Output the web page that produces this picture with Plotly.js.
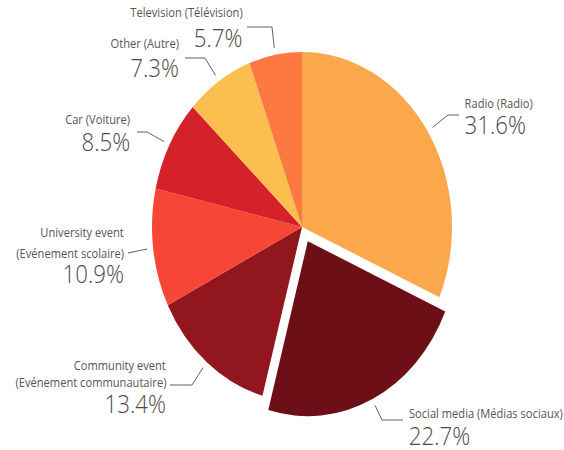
<!DOCTYPE html>
<html><head><meta charset="utf-8">
<script src="https://cdn.plot.ly/plotly-3.0.1.min.js"></script>
<style>
html,body{margin:0;padding:0;overflow:hidden;background:#fff;}
#wrap{width:564px;height:450px;overflow:hidden;}
#chart{width:658px;height:450px;transform:scaleX(0.857143);transform-origin:0 0;}
</style></head><body><div id="wrap"><div id="chart"></div></div>
<script>
// ---- data ----
const categories = ["Radio (Radio)", "Social media (Médias sociaux)", "Community event|(Evénement communautaire)", "University event|(Evénement scolaire)", "Car (Voiture)", "Other (Autre)", "Television (Télévision)"];
const values = [31.6, 22.7, 13.4, 10.9, 8.5, 7.3, 5.7];
const percentLabels = ["31.6%", "22.7%", "13.4%", "10.9%", "8.5%", "7.3%", "5.7%"];

// ---- styles ----
const colors = ["#FBA84C", "#6C0F16", "#92161D", "#F84636", "#D5222A", "#FBBE4F", "#FC7A41"];
const pulls = [0, 0.09, 0, 0, 0, 0, 0];

// ---- geometry (final pixel frame) ----
const W = 564, H = 450, S = 150 / 175;   // horizontal squeeze
const CX = 302, CY = 227, R = 175;
const maxPull = Math.max(...pulls);
const half = R * (1 + maxPull);
const Wp = W / S;
const cxp = CX / S;

// label placement (final pixel frame): text anchor x, line y's, percent y, elbow points
const labelLayout = [
  {anchor: 'left',  x: 464, lineY: [103],      pctY: 124, elbow: [[448, 115], [459, 115]]},
  {anchor: 'left',  x: 408, lineY: [413],      pctY: 435, elbow: [[382, 420], [403, 420]]},
  {anchor: 'right', x: 167, lineY: [365, 382], pctY: 403, elbow: [[192, 385], [170, 385]]},
  {anchor: 'right', x: 125, lineY: [232, 253], pctY: 273, elbow: [[128, 253]]},
  {anchor: 'right', x: 131, lineY: [119],      pctY: 141, elbow: [[147, 132], [137, 132]]},
  {anchor: 'right', x: 180, lineY: [43],       pctY: 67,  elbow: [[205, 58], [185, 58]]},
  {anchor: 'right', x: 243, lineY: [12],       pctY: 37,  elbow: [[272, 27], [247, 27]]}
];

const px = x => x / W;
const py = y => 1 - y / H;

const total = values.reduce((a, b) => a + b, 0);
let cum = 0;
const annotations = [];
const shapes = [];
values.forEach((v, i) => {
  const mid = (cum + v / 2) / total;
  cum += v;
  const th = 2 * Math.PI * mid;
  const k = 1.04;
  const pr = pulls[i] * R;
  const sx = CX + (R * k + pr) * Math.sin(th) * S;
  const sy = CY - (R * k + pr) * Math.cos(th);
  const L = labelLayout[i];
  let d = `M${px(sx)},${py(sy)}`;
  L.elbow.forEach(p => { d += ` L${px(p[0])},${py(p[1])}`; });
  shapes.push({type: 'path', xref: 'paper', yref: 'paper', path: d, line: {color: '#555', width: 1}});
  categories[i].split('|').forEach((t, j) => {
    annotations.push({xref: 'paper', yref: 'paper', x: px(L.x), y: py(L.lineY[j]), text: t,
      xanchor: L.anchor, yanchor: 'middle', showarrow: false, borderpad: 0,
      font: {family: 'Open Sans', size: 13, color: '#555'}});
  });
  annotations.push({xref: 'paper', yref: 'paper', x: px(L.x), y: py(L.pctY), text: percentLabels[i],
    xanchor: L.anchor, yanchor: 'middle', showarrow: false, borderpad: 0,
    font: {family: 'Open Sans', size: 26, color: '#4a4a4a', weight: 300}});
});

const trace = {
  type: 'pie',
  values: values,
  labels: categories.map(c => c.replace('|', ' ')),
  sort: false,
  direction: 'clockwise',
  rotation: 0,
  pull: pulls,
  marker: {colors: colors, line: {width: 0}},
  textinfo: 'none',
  hoverinfo: 'label+percent',
  domain: {x: [(cxp - half) / Wp, (cxp + half) / Wp], y: [(H - CY - half) / H, (H - CY + half) / H]}
};

Plotly.newPlot('chart', [trace], {
  width: Wp, height: H,
  margin: {l: 0, r: 0, t: 0, b: 0},
  paper_bgcolor: '#fff',
  showlegend: false,
  annotations: annotations,
  shapes: shapes
}, {displayModeBar: false, staticPlot: true});
</script></body></html>
